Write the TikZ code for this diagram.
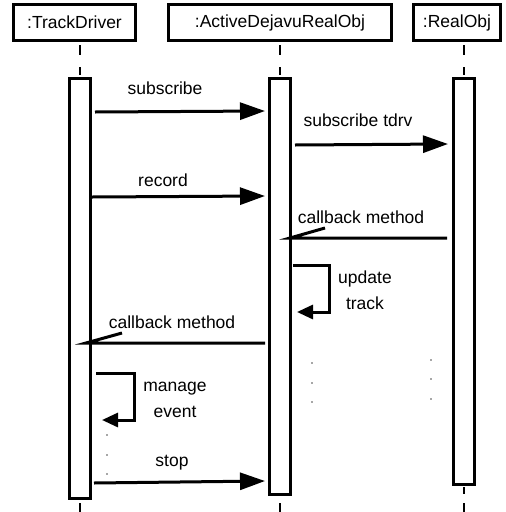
\documentclass[tikz,border=0pt]{standalone}
\usepackage{fontspec}
\setmainfont{Liberation Sans}
\usetikzlibrary{arrows.meta}
\begin{document}
\begin{tikzpicture}[x=1pt,y=-1pt,
  obj/.style={draw,line width=3pt,minimum height=36pt,inner sep=0pt,font=\fontsize{17.5}{21}\selectfont},
  act/.style={draw,line width=3pt,minimum width=21pt,inner sep=0pt,anchor=north},
  msg/.style={line width=3pt,-{Triangle[length=25pt,width=17pt]}},
  selfmsg/.style={line width=3pt,-{Triangle[length=16pt,width=14pt]}},
  ret/.style={line width=3pt},
  lbl/.style={font=\fontsize{17.5}{26}\selectfont,align=center,inner sep=0pt},
  life/.style={line width=2pt},
  dotm/.style={fill=black!70,circle,inner sep=0pt,minimum size=1.6pt}]
\useasboundingbox (0,0) rectangle (506,512);
% objects
\node[obj,minimum width=122pt] (td) at (74.5,22.5) {:TrackDriver};
\node[obj,minimum width=223pt] (ad) at (280,22.5) {:ActiveDejavuRealObj};
\node[obj,minimum width=87pt] (ro) at (457,22.5) {:RealObj};
% activation bars
\node[act,minimum height=420pt] (a1) at (80,76.5) {};
\node[act,minimum height=416pt] (a2) at (280,76.5) {};
\node[act,minimum height=406pt] (a3) at (464,76.5) {};
% lifeline fragments
\coordinate (l1a) at (80,45); \coordinate (l1b) at (80,55);
\coordinate (l1c) at (80,67); \coordinate (l1d) at (80,75);
\draw[life] (l1a) -- (l1b) (l1c) -- (l1d);
\coordinate (l2a) at (280,45); \coordinate (l2b) at (280,55);
\coordinate (l2c) at (280,67); \coordinate (l2d) at (280,75);
\draw[life] (l2a) -- (l2b) (l2c) -- (l2d);
\coordinate (l3a) at (464,45); \coordinate (l3b) at (464,55);
\coordinate (l3c) at (464,67); \coordinate (l3d) at (464,75);
\draw[life] (l3a) -- (l3b) (l3c) -- (l3d);
\coordinate (b1a) at (80,503); \coordinate (b1b) at (80,512);
\coordinate (b2a) at (280,503); \coordinate (b2b) at (280,512);
\coordinate (b3a) at (464,487); \coordinate (b3b) at (464,494);
\coordinate (b3c) at (464,503); \coordinate (b3d) at (464,512);
\draw[life] (b1a) -- (b1b) (b2a) -- (b2b) (b3a) -- (b3b) (b3c) -- (b3d);
% subscribe
\coordinate (m1s) at (95,112); \coordinate (m1e) at (265,111);
\draw[msg] (m1s) -- (m1e);
\node[lbl] (t1) at (165,88) {subscribe};
% subscribe tdrv
\coordinate (m2s) at (295,145); \coordinate (m2e) at (448,144);
\draw[msg] (m2s) -- (m2e);
\node[lbl] (t2) at (358,120) {subscribe tdrv};
% record
\coordinate (m3s) at (92,197); \coordinate (m3e) at (265,196);
\draw[msg] (m3s) -- (m3e);
\node[lbl] (t3) at (163,180) {record};
% callback method (RealObj -> ADRO)
\coordinate (m4s) at (447,238); \coordinate (m4e) at (290,238); \coordinate (m4h) at (325,228);
\draw[ret] (m4s) -- (m4e) -- (m4h);
\node[lbl] (t4) at (361,217) {callback method};
% update track
\coordinate (m5a) at (293,265); \coordinate (m5b) at (329,265);
\coordinate (m5c) at (329,312); \coordinate (m5d) at (297,312);
\draw[selfmsg] (m5a) -- (m5b) -- (m5c) -- (m5d);
\node[lbl] (t5) at (365,290) {update\\track};
% callback method (ADRO -> TD)
\coordinate (m6s) at (265,343); \coordinate (m6e) at (86,343); \coordinate (m6h) at (122,333);
\draw[ret] (m6s) -- (m6e) -- (m6h);
\node[lbl] (t6) at (172,322) {callback method};
% manage event
\coordinate (m7a) at (96,373); \coordinate (m7b) at (134,373);
\coordinate (m7c) at (134,420); \coordinate (m7d) at (102,420);
\draw[selfmsg] (m7a) -- (m7b) -- (m7c) -- (m7d);
\node[lbl] (t7) at (175,400) {manage\\event};
% stop
\coordinate (m8s) at (94,483); \coordinate (m8e) at (265,481);
\draw[msg] (m8s) -- (m8e);
\node[lbl] (t8) at (172,463) {stop};
% dots
\foreach \x/\y in {107/435,107/455,107/474,312/363,312/383,312/402,431/360,431/379,431/399}
  \node[dotm] at (\x,\y) {};
\end{tikzpicture}
\end{document}
